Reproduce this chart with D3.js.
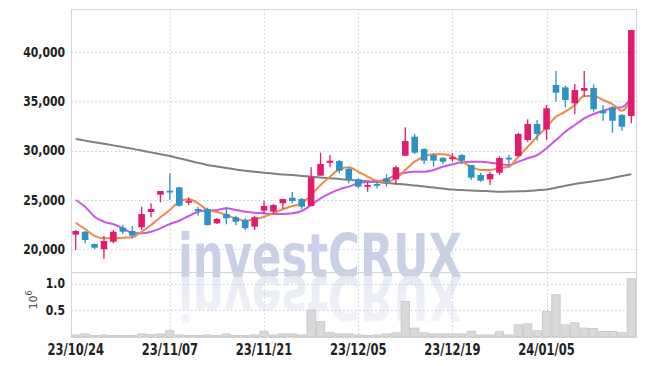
<!DOCTYPE html>
<html><head><meta charset="utf-8">
<script src="https://cdn.jsdelivr.net/npm/d3@7"></script>
<style>
html,body{margin:0;padding:0;background:#fff;}
svg{display:block;}
.lbl{font-family:"Liberation Sans Narrow","DejaVu Sans Condensed","Arial Narrow",sans-serif;font-weight:bold;fill:#222;}
</style></head><body>
<svg id="chart" width="645" height="366"></svg>
<script>
// ---------- data ----------
const dates = ["23/10/24","23/10/25","23/10/26","23/10/27","23/10/30","23/10/31","23/11/01","23/11/02","23/11/03","23/11/06",
"23/11/07","23/11/08","23/11/09","23/11/10","23/11/13","23/11/14","23/11/15","23/11/16","23/11/17","23/11/20",
"23/11/21","23/11/22","23/11/23","23/11/24","23/11/27","23/11/28","23/11/29","23/11/30","23/12/01","23/12/04",
"23/12/05","23/12/06","23/12/07","23/12/08","23/12/11","23/12/12","23/12/13","23/12/14","23/12/15","23/12/18",
"23/12/19","23/12/20","23/12/21","23/12/22","23/12/26","23/12/27","23/12/28","24/01/02","24/01/03","24/01/04",
"24/01/05","24/01/08","24/01/09","24/01/10","24/01/11","24/01/12","24/01/15","24/01/16","24/01/17","24/01/18"];
const open  = [21480,21780,20540,20000,20770,22190,21850,22230,23780,25530,25930,26270,24720,24080,24080,22630,23570,23240,22970,22290,23910,23810,24660,25220,25090,24380,27450,28760,28940,28130,27080,26340,26610,27190,27080,29470,31400,30150,29540,29270,29140,29540,28530,27520,27080,27750,29270,29440,31060,32680,32140,36630,36390,34780,36050,36320,34030,34370,33590,33490];
const high  = [21950,21850,20600,21350,21950,22460,22360,24310,24650,25900,27690,26340,25260,24310,24210,23170,24250,23370,23140,23370,24920,24580,25090,25800,25190,28300,29780,29540,29040,28300,27190,26840,26910,27590,28460,32350,31670,30220,29720,29310,29720,29610,28530,27750,27850,29410,29540,31800,33160,33090,34600,38040,36560,36730,38040,36700,34600,34500,33690,42190];
const low   = [19930,20610,20000,19050,20610,21550,21110,21950,23240,24760,24990,24310,24480,23400,22390,22560,22530,22460,21950,21950,23570,23570,24080,24660,24080,24380,27450,28300,27690,26680,26170,25830,26170,26340,26510,29470,29640,28630,28360,28630,28870,28600,27010,26840,26510,27520,28630,29370,30890,30990,31060,34940,34370,33660,35440,33930,33010,31800,32000,32750];
const close = [21850,20940,20160,20840,21780,21780,21380,23570,24080,25900,25800,24410,24920,23880,22460,23070,23140,22790,22130,23240,24380,24480,25090,24890,24310,27290,28630,28970,27950,27080,26340,26510,26440,26840,28300,30960,29780,28970,28970,28870,29310,28970,27250,26940,27620,29240,29110,31670,32680,31670,34270,35850,35110,36120,36320,34170,33760,33010,32410,42190];
const volume = [0.03,0.05,0.02,0.03,0.02,0.02,0.02,0.05,0.04,0.05,0.11,0.03,0.02,0.02,0.03,0.02,0.05,0.02,0.02,0.03,0.1,0.03,0.05,0.05,0.03,0.5,0.28,0.08,0.05,0.05,0.03,0.02,0.03,0.05,0.07,0.66,0.16,0.07,0.05,0.05,0.05,0.05,0.1,0.03,0.03,0.09,0.03,0.22,0.24,0.11,0.47,0.79,0.22,0.26,0.16,0.15,0.095,0.095,0.076,1.09];
const ma5   = [22690,22050,21350,21110,21110,21170,21210,21780,22460,23240,23980,24820,25060,24660,23980,23780,23470,23140,22890,23040,23300,23640,24050,24380,24660,25500,26510,27350,28100,28300,27850,27350,26940,26840,27190,28030,28870,29370,29610,29610,29370,28870,28360,28030,28030,28230,28360,29370,30380,31400,32350,33420,33930,34600,35510,35510,35110,34700,34030,35280];
const ma20  = [24990,24310,23300,22790,22530,22130,21680,21620,21780,22130,22560,22890,23370,23810,23910,23980,24150,23980,23810,23700,23640,23570,23570,23640,23880,24480,25160,25670,26070,26340,26680,26840,26910,27080,27520,27750,27850,27850,28030,28360,28600,28800,28870,28870,28760,28630,28530,28870,29210,29540,30220,31060,31900,32580,33260,33690,34030,34270,34370,35380];
const maLong= [31160,31000,30840,30680,30520,30350,30170,29990,29810,29620,29440,29210,28990,28750,28530,28380,28230,28080,27960,27850,27740,27660,27580,27510,27430,27350,27270,27200,27110,27040,26960,26880,26800,26720,26640,26560,26460,26360,26250,26150,26050,26000,25960,25910,25870,25820,25850,25870,25900,25970,26050,26230,26430,26610,26750,26890,27030,27220,27410,27590];
const priceTicks = [20000,25000,30000,35000,40000];
const volumeTicks = [0.5,1.0];
const dateTicks = ["23/10/24","23/11/07","23/11/21","23/12/05","23/12/19","24/01/05"];

// ---------- layout ----------
const L = 71, R = 636, pTop = 9, vTop = 272, vBot = 337;
const svg = d3.select("#chart");
const x = d3.scaleBand().domain(dates).range([L, R]);
const cx = d => x(d) + x.bandwidth()/2;
const yP = d3.scaleLinear().domain([20000, 40000]).range([249.3, 51.7]);
const yV = d3.scaleLinear().domain([0, 1]).range([336.5, 283.5]);
const gridCol = "#c9cde0";

// watermark
const wmFont = '"Liberation Sans Narrow","DejaVu Sans Condensed",sans-serif';
const wm = svg.append("g");
wm.append("text").attr("x", 178).attr("y", 277)
  .attr("font-family", wmFont)
  .attr("font-weight", "bold").attr("font-size", 61).attr("fill", "#cad1e7")
  .attr("textLength", 284).attr("lengthAdjust", "spacingAndGlyphs")
  .text("investCRUX");
const defs = svg.append("defs");
const gr = defs.append("linearGradient").attr("id","refl").attr("x1",0).attr("y1",0).attr("x2",0).attr("y2",1);
gr.append("stop").attr("offset","0").attr("stop-color","#f5f6fa");
gr.append("stop").attr("offset","1").attr("stop-color","#e4e7f2");
wm.append("text").attr("x", 178).attr("y", 277)
  .attr("transform", "translate(0,554) scale(1,-1)")
  .attr("font-family", wmFont)
  .attr("font-weight", "bold").attr("font-size", 61).attr("fill", "url(#refl)")
  .attr("textLength", 284).attr("lengthAdjust", "spacingAndGlyphs")
  .text("investCRUX");

// grids
const grid = svg.append("g").attr("stroke", gridCol).attr("stroke-dasharray", "1.5,2.5").attr("stroke-width", 1);
grid.selectAll(".hp").data(priceTicks).join("line")
  .attr("x1", L).attr("x2", R).attr("y1", d => Math.round(yP(d))+0.5).attr("y2", d => Math.round(yP(d))+0.5);
grid.selectAll(".hv").data(volumeTicks).join("line")
  .attr("x1", L).attr("x2", R).attr("y1", d => Math.round(yV(d))+0.5).attr("y2", d => Math.round(yV(d))+0.5);
grid.selectAll(".vt").data(dateTicks.slice(1)).join("line")
  .attr("x1", d => Math.round(cx(d))+0.5).attr("x2", d => Math.round(cx(d))+0.5)
  .attr("y1", pTop).attr("y2", vBot);

// frame
const fr = svg.append("g").attr("stroke", "#d4d4d4").attr("fill", "none");
fr.append("rect").attr("x", L+0.5).attr("y", pTop+0.5).attr("width", R-L).attr("height", vBot-pTop);
fr.append("line").attr("x1", L).attr("x2", R).attr("y1", vTop+0.5).attr("y2", vTop+0.5);

// volume bars
svg.append("g").selectAll("rect").data(dates).join("rect")
  .attr("x", d => x(d)+0.5).attr("width", x.bandwidth()-1)
  .attr("y", (d,i) => yV(volume[i])).attr("height", (d,i) => yV(0)-yV(volume[i]))
  .attr("fill", "#d9d9d9").attr("stroke", "#c2c2c2").attr("stroke-width", 0.7);

// MA lines
const line = arr => d3.line().x((d,i) => cx(dates[i])).y(d => yP(d)).curve(d3.curveMonotoneX)(arr);
svg.append("path").attr("d", line(maLong)).attr("fill","none").attr("stroke","#808080").attr("stroke-width",2);
svg.append("path").attr("d", line(ma20)).attr("fill","none").attr("stroke","#c956e8").attr("stroke-width",2);
svg.append("path").attr("d", line(ma5)).attr("fill","none").attr("stroke","#ef8848").attr("stroke-width",2);

// candles
const up = "#e31b6d", dn = "#2d93c6";
const cg = svg.append("g");
const bw = x.bandwidth()*0.7;
cg.selectAll("line").data(dates).join("line")
  .attr("x1", d => cx(d)).attr("x2", d => cx(d))
  .attr("y1", (d,i) => yP(high[i])).attr("y2", (d,i) => yP(low[i]))
  .attr("stroke", (d,i) => close[i] >= open[i] ? up : dn).attr("stroke-width", 1.3);
cg.selectAll("rect").data(dates).join("rect")
  .attr("x", d => cx(d)-bw/2).attr("width", bw)
  .attr("y", (d,i) => yP(Math.max(open[i], close[i])))
  .attr("height", (d,i) => Math.max(1.8, Math.abs(yP(open[i]) - yP(close[i]))))
  .attr("fill", (d,i) => close[i] >= open[i] ? up : dn);

// axes
const ax1 = svg.append("g").attr("transform", `translate(${L},0)`)
  .call(d3.axisLeft(yP).tickValues(priceTicks).tickFormat(d3.format(",")).tickSize(0).tickPadding(0));
const ax2 = svg.append("g").attr("transform", `translate(${L},0)`)
  .call(d3.axisLeft(yV).tickValues(volumeTicks).tickFormat(d3.format(".1f")).tickSize(0).tickPadding(0));
const ax3 = svg.append("g").attr("transform", `translate(0,${vBot})`)
  .call(d3.axisBottom(x).tickValues(dateTicks).tickSize(0).tickPadding(7));
[ax1, ax2, ax3].forEach(a => {
  a.select(".domain").remove();
  a.selectAll("text").attr("class", "lbl").attr("fill", "#222");
});
ax1.selectAll("text").attr("font-size", 14).attr("x", -6).attr("transform", "translate(-6,0) scale(0.86,1) translate(6,0)");
ax2.selectAll("text").attr("font-size", 14).attr("x", -6).attr("transform", "translate(-6,0) scale(0.86,1) translate(6,0)");
ax3.selectAll("text").attr("font-size", 16).attr("transform", "scale(0.8,1)");

// volume unit label
const ul = svg.append("text").attr("transform", "translate(37,300) rotate(-90)")
  .attr("text-anchor", "middle").attr("font-family", '"DejaVu Sans",sans-serif')
  .attr("font-size", 11).attr("fill", "#444");
ul.append("tspan").text("10");
ul.append("tspan").attr("dy", -5).attr("font-size", 8).text("6");
</script>
</body></html>
